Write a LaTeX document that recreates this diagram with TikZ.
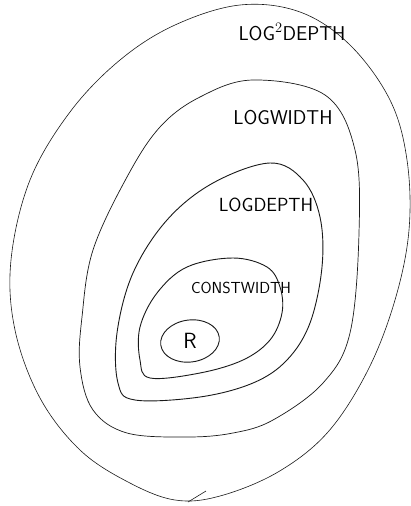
\documentclass[tikz,border=0pt]{standalone}
\usepackage{tikz}
\usetikzlibrary{positioning}

\begin{document}
\begin{tikzpicture}[x=1pt,y=-1pt,
    ring/.style={draw=black!90,line width=0.9pt,line join=round},
    lbl/.style={font=\sffamily\fontsize{20}{20}\selectfont,inner sep=0pt}]
  \useasboundingbox (0,0) rectangle (411,506);
  % outer region
  \draw[ring,line width=0.6pt] plot[smooth cycle,tension=0.6] coordinates {
    (240,5) (300,12) (350,45) (390,100) (407,160) (409,230) (395,300)
    (368,370) (328,432) (278,472) (220,496) (175,500) (128,482)
    (80,450) (40,398) (15,330) (11,260) (30,180) (70,112) (120,60) (175,25)};
  \draw[ring,line width=0.6pt] (188,502) -- (206,491);
  \node[lbl] (logsq) at (292,32) {LOG$^2$DEPTH};
  % logwidth
  \draw[ring,line width=0.7pt] plot[smooth cycle,tension=0.6] coordinates {
    (253,80) (325,95) (355,150) (359,233) (350,333) (323,383) (273,420)
    (233,433) (187,437) (127,433) (93,410) (80,367) (82,317) (93,250)
    (127,177) (160,127) (200,97)};
  \node[lbl] (logw) at (283,118) {LOGWIDTH};
  % logdepth
  \draw[ring] plot[smooth cycle,tension=0.6] coordinates {
    (270,163) (303,180) (320,217) (322,267) (310,323) (287,360) (253,383)
    (200,397) (135,400) (118,383) (117,333) (133,273) (167,220) (213,183)};
  \node[lbl,font=\sffamily\fontsize{19}{19}\selectfont] (logd) at (266,205) {LOGDEPTH};
  % constwidth
  \draw[ring] plot[smooth cycle,tension=0.6] coordinates {
    (233,258) (267,267) (280,287) (282,313) (270,340) (243,360) (200,373)
    (150,378) (140,360) (140,327) (157,293) (187,267)};
  \node[lbl,font=\sffamily\fontsize{16}{16}\selectfont] (cw) at (241,288) {CONSTWIDTH};
  % R
  \node[lbl,font=\sffamily\fontsize{22}{22}\selectfont] (r) at (190,341) {R};
  \draw[ring,rotate around={8:(190,341)}] (r.center) ellipse [x radius=29.5,y radius=21];
\end{tikzpicture}
\end{document}
